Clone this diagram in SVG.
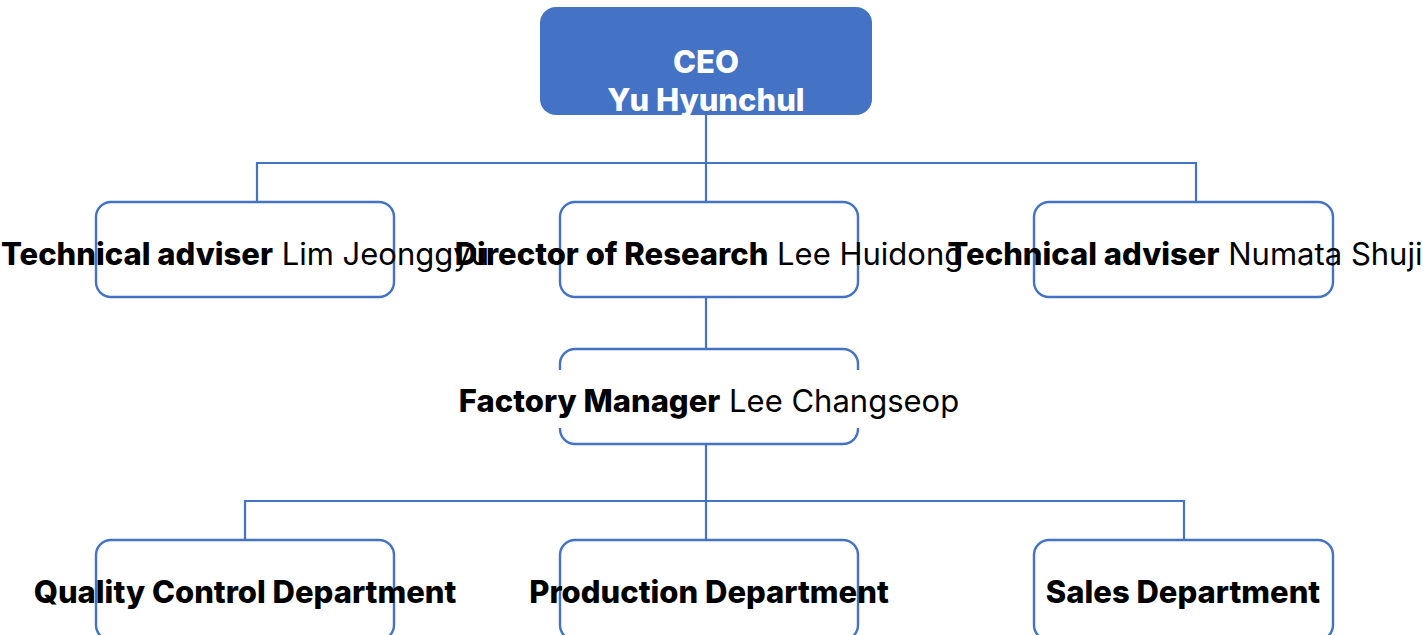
<svg xmlns="http://www.w3.org/2000/svg" width="1423" height="635" viewBox="0 0 1423 635">
<style>
.box{fill:#ffffff;stroke:#4472C4;stroke-width:2.4}
.ln{fill:none;stroke:#4472C4;stroke-width:2.2}
text{font-family:Inter,"Noto Sans","Liberation Sans",sans-serif;font-size:31px;fill:#000;text-anchor:middle}
.b{font-weight:800}
.w{fill:#ffffff;font-weight:800}
</style>
<rect width="1423" height="635" fill="#ffffff"/>
<g id="connectors">
<path class="ln" d="M706 115V163M257 201V163H1196V201M706 163V201"/>
<path class="ln" d="M706 297V349"/>
<path class="ln" d="M706 444V501M245 540V501H1184V540M706 501V540"/>
</g>
<g id="ceo">
<rect x="540" y="7" width="332" height="108" rx="16" fill="#4472C4"/>
<text class="w" x="706" y="73">CEO</text>
<text class="w" x="706" y="111">Yu Hyunchul</text>
</g>
<g id="adviser1">
<rect class="box" x="96" y="202" width="298" height="95" rx="15"/>
<text x="245" y="265"><tspan class="b">Technical adviser</tspan> Lim Jeonggyu</text>
</g>
<g id="director">
<rect class="box" x="560" y="202" width="298" height="95" rx="15"/>
<text x="709" y="265"><tspan class="b">Director of Research</tspan> Lee Huidong</text>
</g>
<g id="adviser2">
<rect class="box" x="1034" y="202" width="299" height="95" rx="15"/>
<text x="1185" y="265"><tspan class="b">Technical adviser</tspan> Numata Shuji</text>
</g>
<g id="factory">
<rect class="box" x="560" y="349" width="298" height="95" rx="15"/>
<rect x="550" y="370" width="320" height="58" fill="#ffffff"/>
<text x="709" y="412"><tspan class="b">Factory Manager</tspan> Lee Changseop</text>
</g>
<g id="quality">
<rect class="box" x="96" y="540" width="298" height="100" rx="15"/>
<text class="b" x="245" y="603">Quality Control Department</text>
</g>
<g id="production">
<rect class="box" x="560" y="540" width="298" height="100" rx="15"/>
<text class="b" x="709" y="603">Production Department</text>
</g>
<g id="sales">
<rect class="box" x="1034" y="540" width="299" height="100" rx="15"/>
<text class="b" x="1183" y="603">Sales Department</text>
</g>
</svg>
